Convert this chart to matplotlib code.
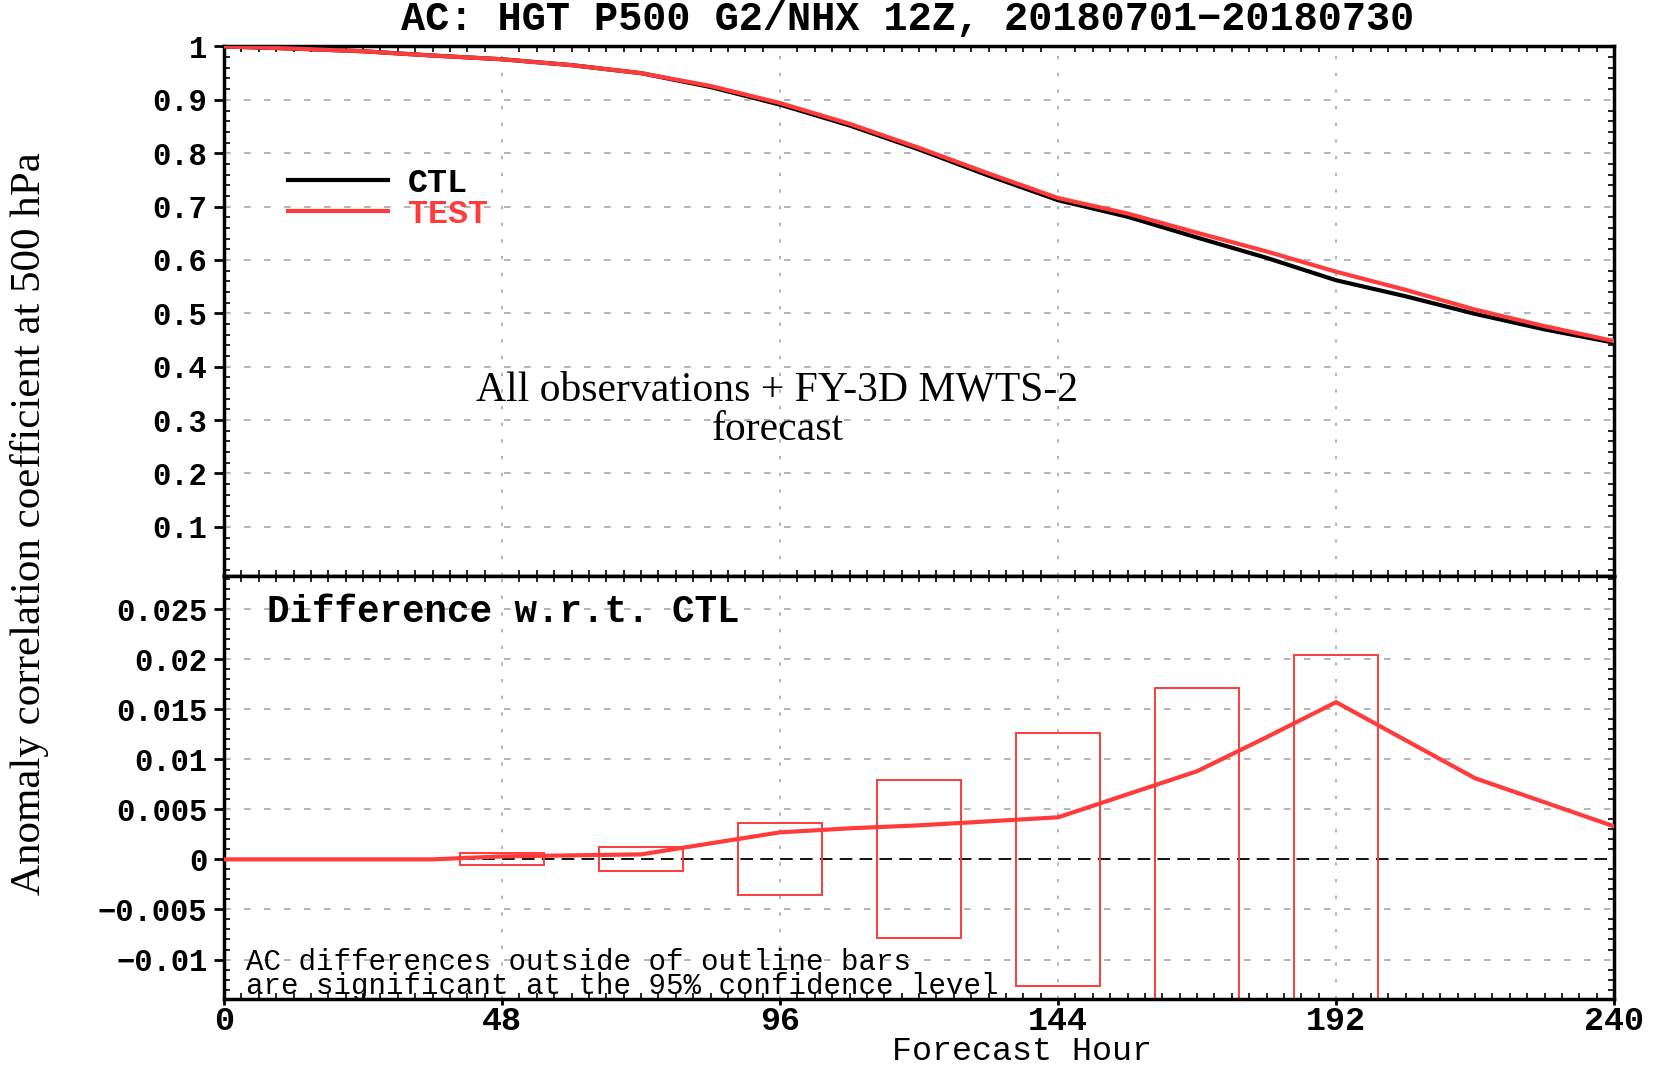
import matplotlib.pyplot as plt
from matplotlib.ticker import MultipleLocator, FixedLocator

# Forecast hours (12-hourly)
hours = [0, 12, 24, 36, 48, 60, 72, 84, 96, 108, 120, 132, 144, 156, 168, 180, 192, 204, 216, 228, 240]

# Anomaly correlation at 500 hPa
ac_test = [1.000, 0.996, 0.991, 0.983, 0.976, 0.965, 0.950, 0.926, 0.894, 0.855, 0.810,
           0.762, 0.716, 0.687, 0.651, 0.616, 0.578, 0.544, 0.507, 0.476, 0.448]
ac_ctl = [1.000, 0.996, 0.991, 0.983, 0.976, 0.965, 0.950, 0.924, 0.891, 0.852, 0.807,
          0.758, 0.712, 0.681, 0.642, 0.604, 0.562, 0.532, 0.499, 0.470, 0.445]

# TEST - CTL
ac_diff = [0, 0, 0, 0, 0.0003, 0.0004, 0.0005, 0.0016, 0.0027, 0.0031, 0.0034,
           0.0038, 0.0042, 0.0065, 0.0088, 0.0122, 0.0157, 0.0119, 0.0081, 0.0057, 0.0033]

# 95% significance bars (half heights, centred on zero)
bar_hours = [48, 72, 96, 120, 144, 168, 192]
bar_half = [0.0006, 0.0012, 0.0036, 0.0079, 0.0126, 0.0171, 0.0204]

upper_ticks = [0.1, 0.2, 0.3, 0.4, 0.5, 0.6, 0.7, 0.8, 0.9, 1.0]
upper_labels = ['0.1', '0.2', '0.3', '0.4', '0.5', '0.6', '0.7', '0.8', '0.9', '1']
lower_ticks = [-0.01, -0.005, 0, 0.005, 0.01, 0.015, 0.02, 0.025]
lower_labels = ['\u22120.01', '\u22120.005', '0', '0.005', '0.01', '0.015', '0.02', '0.025']
x_ticks = [0, 48, 96, 144, 192, 240]

RED = '#ff3b3b'
MONO = 'Liberation Mono'
SERIF = 'Liberation Serif'
GRID = dict(color='#a8a8a8', linestyle=(0, (4, 8)), linewidth=1.2)

fig = plt.figure(figsize=(16.57, 10.68), dpi=100)
ax1 = fig.add_axes([0.1352, 0.4607, 0.8389, 0.4958])
ax2 = fig.add_axes([0.1352, 0.0650, 0.8389, 0.3957])

for ax in (ax1, ax2):
    ax.set_xlim(0, 240)
    ax.xaxis.set_major_locator(FixedLocator(x_ticks))
    ax.xaxis.set_minor_locator(MultipleLocator(3))
    for s in ax.spines.values():
        s.set_linewidth(2.5)
    ax.tick_params(axis='y', which='major', direction='out', length=7, width=2,
                   pad=5, labelsize=22)
    ax.tick_params(axis='x', which='major', direction='out', length=4, width=2,
                   pad=1, labelsize=24)
    ax.tick_params(axis='x', which='minor', direction='in', length=4, width=1.2,
                   top=True, bottom=True)
    ax.tick_params(axis='y', which='minor', direction='in', length=4, width=1.2,
                   left=True, right=True)
    for v in [48, 96, 144, 192]:
        ax.axvline(v, color='#a8a8a8', linestyle=(0, (2, 8)), linewidth=1.2, zorder=0)

# ---- upper panel
ax1.set_ylim(0.008, 1.0)
ax1.set_yticks(upper_ticks)
ax1.set_yticklabels(upper_labels, fontfamily=MONO, fontweight='bold')
ax1.yaxis.set_minor_locator(MultipleLocator(0.02))
ax1.tick_params(axis='x', which='major', labelbottom=False, length=0)
for v in upper_ticks[:-1]:
    ax1.axhline(v, zorder=0, **GRID)

ax1.plot(hours, ac_ctl, color='black', lw=3, label='CTL', zorder=3)
ax1.plot(hours, ac_test, color=RED, lw=3, label='TEST', zorder=4)
leg = ax1.legend(loc='upper left', bbox_to_anchor=(0.034, 0.802), frameon=False,
                 handlelength=3.0, handletextpad=0.6, labelspacing=0.0, borderpad=0,
                 labelcolor='linecolor', prop=dict(family=MONO, weight='bold', size=24))

ax1.text(0.398, 0.313, 'All observations + FY-3D MWTS-2\nforecast', transform=ax1.transAxes,
         ha='center', va='center', fontfamily=SERIF, fontsize=30, linespacing=1.05)

# ---- lower panel
ax2.set_ylim(-0.0139, 0.0283)
ax2.set_yticks(lower_ticks)
ax2.set_yticklabels(lower_labels, fontfamily=MONO, fontweight='bold')
ax2.yaxis.set_minor_locator(MultipleLocator(0.001))
ax2.set_xticks(x_ticks)
ax2.set_xticklabels([str(v) for v in x_ticks], fontfamily=MONO, fontweight='bold')
for v in lower_ticks:
    if v != 0:
        ax2.axhline(v, zorder=0, **GRID)
ax2.axhline(0, color='black', linestyle=(0, (7, 4)), linewidth=1.3, zorder=1)

ax2.bar(bar_hours, [2 * h for h in bar_half], bottom=[-h for h in bar_half], width=14.4,
        fill=False, edgecolor=RED, linewidth=1.4, zorder=2)
ax2.plot(hours, ac_diff, color=RED, lw=3, zorder=4)

ax2.text(0.031, 0.915, 'Difference w.r.t. CTL', transform=ax2.transAxes, ha='left',
         va='center', fontfamily=MONO, fontweight='bold', fontsize=27)
ax2.text(0.016, 0.058, 'AC differences outside of outline bars\nare significant at the 95% confidence level',
         transform=ax2.transAxes, ha='left', va='center', fontfamily=MONO,
         fontsize=21, linespacing=0.82)

fig.text(0.548, 0.982, 'AC: HGT P500 G2/NHX 12Z, 20180701\u221220180730', ha='center', va='center',
         fontfamily=MONO, fontweight='bold', fontsize=29)
fig.text(0.617, 0.015, 'Forecast Hour', ha='center', va='center', fontfamily=MONO, fontsize=24)
fig.text(0.018, 0.51, 'Anomaly correlation coefficient at 500 hPa', rotation=90,
         ha='center', va='center', fontfamily=SERIF, fontsize=31)

fig.savefig('out.png', dpi=100)
